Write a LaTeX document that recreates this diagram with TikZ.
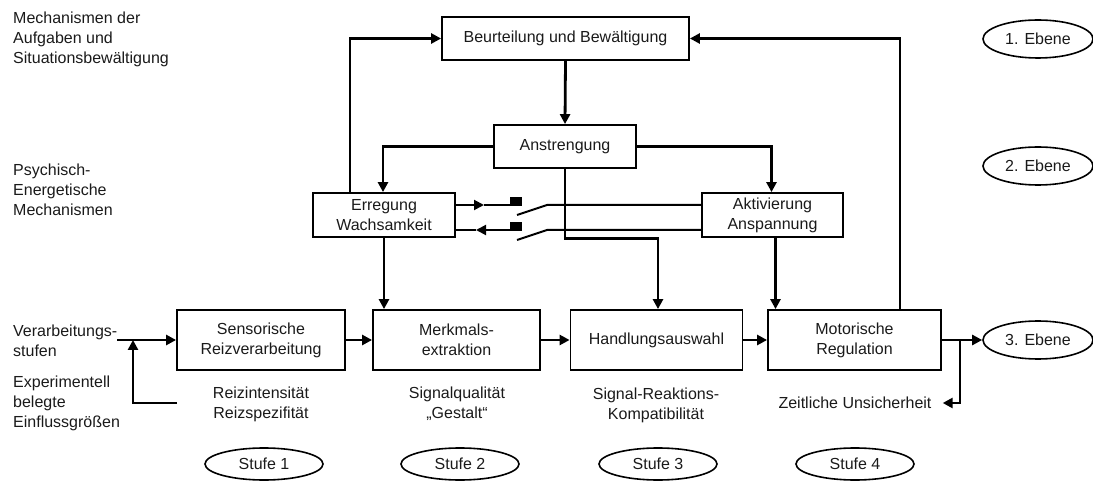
\documentclass[tikz,border=0pt]{standalone}
\usepackage{fontspec}
\setmainfont{Liberation Sans}
\usetikzlibrary{arrows.meta,shapes.geometric}
\definecolor{ink}{HTML}{1A1A1A}
\begin{document}
\begin{tikzpicture}[x=1bp,y=-1bp,
  font=\fontsize{16bp}{20bp}\selectfont,
  every node/.style={text=ink},
  box/.style={draw=black,line width=1.8bp,align=center,inner sep=0pt},
  stage/.style={box,minimum height=60bp},
  lvl/.style={draw=black,ellipse,line width=1.6bp,minimum width=110bp,minimum height=38bp,inner sep=0pt},
  stufe/.style={draw=black,ellipse,line width=1.6bp,minimum width=118bp,minimum height=32bp,inner sep=0pt},
  lab/.style={align=center,inner sep=0pt},
  side/.style={align=left,anchor=west,inner sep=0pt},
  conn/.style={line width=2.8bp},
  arr/.style={conn,-{Triangle[length=10bp,width=10bp]}},
  sw/.style={line width=2bp},
  swarr/.style={sw,-{Triangle[length=10bp,width=10bp]}}
]
\useasboundingbox (0,0) rectangle (1093,482);

% side captions
\node[side] (c1) at (13,39) {Mechanismen der\\Aufgaben und\\Situationsbewältigung};
\node[side] (c2) at (13,190) {Psychisch-\\Energetische\\Mechanismen};
\node[side] (c3) at (13,341) {Verarbeitungs-\\stufen};
\node[side] (c4) at (13,403) {Experimentell\\belegte\\Einflussgrößen};

% upper mechanisms
\node[box,minimum width=247bp,minimum height=43bp] (beu) at (565.5,38.5) {Beurteilung und Bewältigung};
\node[box,minimum width=142bp,minimum height=43bp] (ans) at (565,146.5) {Anstrengung};
\node[box,minimum width=142bp,minimum height=44bp] (err) at (384,215) {Erregung\\Wachsamkeit};
\node[box,minimum width=141bp,minimum height=44bp] (akt) at (772.5,215) {Aktivierung\\Anspannung};

% processing stages
\node[stage,minimum width=168bp] (sen) at (261,340) {Sensorische\\Reizverarbeitung};
\node[stage,minimum width=167bp] (mer) at (456.5,340) {Merkmals-\\extraktion};
\node[stage,minimum width=172bp] (han) at (656.5,340) {Handlungsauswahl};
\node[stage,minimum width=173bp] (mot) at (854.5,340) {Motorische\\Regulation};

% levels
\node[lvl] (e1) at (1038,39) {1. Ebene};
\node[lvl] (e2) at (1038,166) {2. Ebene};
\node[lvl] (e3) at (1038,340) {3. Ebene};

% influencing factors
\node[lab] (f1) at (261,404) {Reizintensität\\Reizspezifität};
\node[lab] (f2) at (457,404) {Signalqualität\\„Gestalt“};
\node[lab] (f3) at (656,405) {Signal-Reaktions-\\Kompatibilität};
\node[lab] (zeit) at (855,403) {Zeitliche Unsicherheit};

% stage labels
\node[stufe] (s1) at (264,464) {Stufe 1};
\node[stufe] (s2) at (460,464) {Stufe 2};
\node[stufe] (s3) at (658,464) {Stufe 3};
\node[stufe] (s4) at (855,464) {Stufe 4};

% connections of the upper part
\draw[arr] (beu.south) -- (ans.north);
\draw[arr] (ans.west) -| ([xshift=-1bp]err.north);
\draw[arr] ([xshift=-34bp]err.north) |- (beu.west);
\draw[arr] (ans.east) -| ([xshift=-1bp]akt.north);
\draw[arr] (ans.south) -- ++(0,70) -| ([xshift=1.5bp]han.north);
\draw[arr] ([xshift=45.5bp]mot.north) |- (beu.east);
\draw[arr] (err.south) -- (err.south |- mer.north);
\draw[arr] ([xshift=3bp]akt.south) -- ([xshift=3bp]akt.south |- mot.north);

% switches between arousal and activation
\coordinate (ua) at (522,205);
\coordinate (up) at (547,205);
\coordinate (ut) at (517,215);
\coordinate (la) at (522,230);
\coordinate (lp) at (547,230);
\coordinate (lt) at (517,240);
\draw[swarr] (err.east |- ua) -- (484,205);
\draw[sw] (484,205) -- (ua);
\draw[sw] (ut) -- (up) -- (akt.west |- up);
\fill (510,197) rectangle (522,205.5);
\draw[swarr] (la) -- (476,230);
\draw[sw] (476,230) -- (err.east |- la);
\draw[sw] (lt) -- (lp) -- (akt.west |- lp);
\fill (510,222) rectangle (522,230.5);

% processing chain
\coordinate (in) at (117,340);
\coordinate (fb) at (177,403);
\coordinate (br) at (960,340);
\draw[arr] (in) -- (sen.west);
\draw[arr] (fb) -| ([xshift=16bp]in);
\draw[arr] (sen.east) -- (mer.west);
\draw[arr] (mer.east) -- (han.west);
\draw[arr] (han.east) -- (mot.west);
\draw[arr] (mot.east) -- (e3.west);
\draw[arr] (br) |- ([xshift=11bp]zeit.east);
\end{tikzpicture}
\end{document}
